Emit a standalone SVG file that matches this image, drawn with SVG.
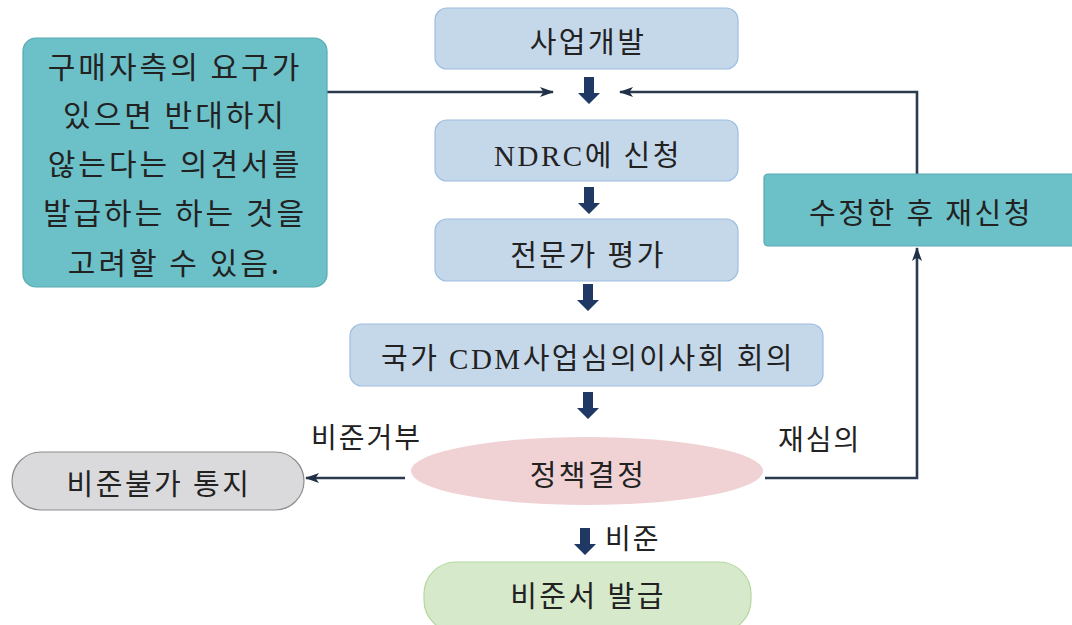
<svg xmlns="http://www.w3.org/2000/svg" xmlns:xlink="http://www.w3.org/1999/xlink" width="1072" height="625" viewBox="0 0 1072 625">
<style>
  .t{font-family:"Liberation Serif","Noto Sans CJK KR",serif;fill:#222;text-anchor:middle;font-size:29px;letter-spacing:2.5px}
  .lb{font-family:"Noto Sans CJK KR","Liberation Sans",sans-serif;fill:#222;font-size:28px;letter-spacing:2px}
  .big{font-family:"Noto Sans CJK KR","Liberation Sans",sans-serif;fill:#222;text-anchor:middle;font-size:30px;letter-spacing:3px}
  .blue{fill:#c5d8ea;stroke:#9dbde0;stroke-width:1.2}
  .teal{fill:#6cc0c7;stroke:#56aab2;stroke-width:1.2}
  .con{fill:none;stroke:#2b3a4c;stroke-width:2.6}
  .dn{fill:#1f3864}
</style>
<defs>
  <marker id="ah" viewBox="0 0 14 10" refX="13" refY="5" markerWidth="14" markerHeight="10" markerUnits="userSpaceOnUse" orient="auto">
    <path d="M0,0 L14,5 L0,10 L3.5,5 z" fill="#1f3048"/>
  </marker>
  <path id="dn" d="M-5,0 H5 V16 H11 L0,27 L-11,16 H-5 z"/>
</defs>
<rect width="1072" height="625" fill="#fff"/>

<g id="connectors">
  <path class="con" d="M327,92 H553" marker-end="url(#ah)"/>
  <path class="con" d="M917,175 V92 H620" marker-end="url(#ah)"/>
  <path class="con" d="M765,478 H917 V248" marker-end="url(#ah)"/>
  <path class="con" d="M405,478 H306" marker-end="url(#ah)"/>
  <use xlink:href="#dn" href="#dn" class="dn" x="589" y="77"/>
  <use xlink:href="#dn" href="#dn" class="dn" x="589" y="187"/>
  <use xlink:href="#dn" href="#dn" class="dn" x="588" y="284"/>
  <use xlink:href="#dn" href="#dn" class="dn" x="588" y="392"/>
  <use xlink:href="#dn" href="#dn" class="dn" x="585" y="528"/>
  <text class="lb" x="311" y="448">비준거부</text>
  <text class="lb" x="778" y="450">재심의</text>
  <text class="lb" x="605" y="549">비준</text>
</g>

<g id="buyer-note">
  <rect class="teal" x="23" y="38" width="304" height="249" rx="13"/>
  <text class="big" x="175" y="78">구매자측의 요구가</text>
  <text class="big" x="175" y="126">있으면 반대하지</text>
  <text class="big" x="175" y="175">않는다는 의견서를</text>
  <text class="big" x="175" y="224">발급하는 하는 것을</text>
  <text class="big" x="175" y="274">고려할 수 있음.</text>
</g>

<g id="project-dev">
  <rect class="blue" x="435" y="8" width="303" height="61" rx="12"/>
  <text class="t" x="588" y="53">사업개발</text>
</g>

<g id="ndrc">
  <rect class="blue" x="435" y="120" width="303" height="61" rx="12"/>
  <text class="t" x="588" y="166">NDRC에 신청</text>
</g>

<g id="expert">
  <rect class="blue" x="435" y="219" width="303" height="62" rx="12"/>
  <text class="t" x="588" y="266">전문가 평가</text>
</g>

<g id="board">
  <rect class="blue" x="350" y="324" width="473" height="62" rx="12"/>
  <text class="t" x="588" y="369">국가 CDM사업심의이사회 회의</text>
</g>

<g id="decision">
  <ellipse cx="587" cy="471" rx="176" ry="34" fill="#f0d2d5"/>
  <text class="t" x="588" y="486">정책결정</text>
</g>

<g id="reject">
  <rect x="12" y="452" width="292" height="58" rx="29" fill="#dadadc" stroke="#8c8c8c" stroke-width="1.2"/>
  <text class="t" x="159" y="495">비준불가 통지</text>
</g>

<g id="reapply">
  <rect class="teal" x="764" y="174" width="320" height="72" rx="4"/>
  <text class="t" x="921" y="224">수정한 후 재신청</text>
</g>

<g id="approve">
  <rect x="424" y="562" width="327" height="70" rx="32" fill="#d6eacb" stroke="#b3d79d" stroke-width="1.2"/>
  <text class="t" x="588" y="607">비준서 발급</text>
</g>
</svg>
